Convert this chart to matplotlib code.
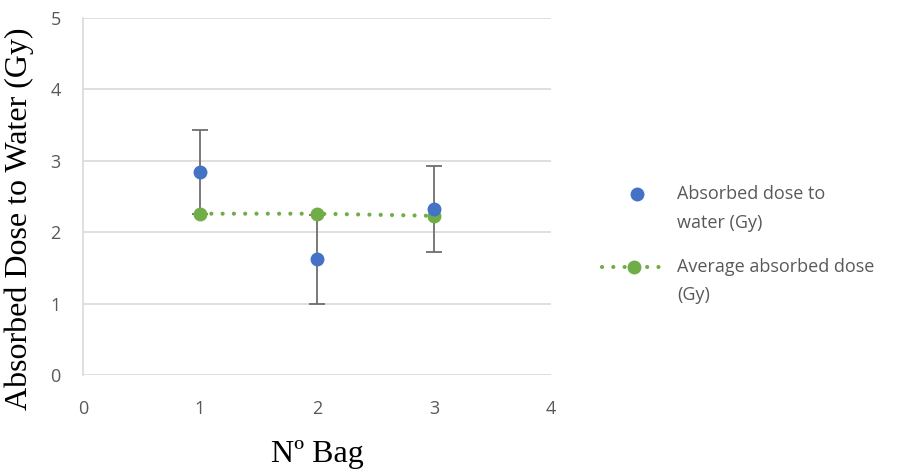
import matplotlib.pyplot as plt
from matplotlib.lines import Line2D

# values
bags = [1, 2, 3]
dose = [2.84, 1.62, 2.33]
dose_err = [0.59, 0.62, 0.60]
avg_dose = [2.26, 2.26, 2.23]

x_ticks = [0, 1, 2, 3, 4]
y_ticks = [0, 1, 2, 3, 4, 5]

legend_labels = [["Absorbed dose to", "water (Gy)"],
                 ["Average absorbed dose", "(Gy)"]]

BLUE = "#4472C4"
GREEN = "#70AD47"
GRID = "#D9D9D9"
TICK = "#595959"
DOTS = (0, (0.01, 2.7))


def draw_legend(fig):
    # hand-made legend so the marker sits on the first text line, as in Excel
    fig.add_artist(Line2D([0.7008], [0.5864], transform=fig.transFigure,
                          linestyle="none", marker="o", markersize=9,
                          color=BLUE))
    fig.add_artist(Line2D([0.6623, 0.7338], [0.4307, 0.4307],
                          transform=fig.transFigure, linestyle=DOTS,
                          linewidth=3, dash_capstyle="round", color=GREEN))
    fig.add_artist(Line2D([0.6980], [0.4307], transform=fig.transFigure,
                          linestyle="none", marker="o", markersize=9,
                          color=GREEN))
    rows = [(0.5864, 0.5245), (0.4307, 0.3710)]
    for (y1, y2), (l1, l2) in zip(rows, legend_labels):
        for y, txt in [(y1, l1), (y2, l2)]:
            fig.text(0.7448, y, txt, ha="left", va="center", fontsize=13,
                     fontfamily="Open Sans", color=TICK)


def main():
    fig = plt.figure(figsize=(9.09, 4.69), dpi=100)
    ax = fig.add_axes([0.0913, 0.2004, 0.515, 0.761])

    ax.errorbar(bags, dose, yerr=dose_err, fmt="none", ecolor="#6E6E6E",
                elinewidth=1.3, capsize=6, capthick=1.3, zorder=3)
    ax.plot(bags, avg_dose, linestyle=DOTS, linewidth=3,
            dash_capstyle="round", color=GREEN, marker="o", markersize=9,
            zorder=4)
    ax.plot(bags, dose, linestyle="none", marker="o", markersize=9,
            color=BLUE, zorder=5)

    ax.set_xlim(0, 4)
    ax.set_ylim(0, 5)
    ax.set_xticks(x_ticks)
    ax.set_yticks(y_ticks)
    ax.yaxis.grid(True, color=GRID, linewidth=1.2)
    ax.set_axisbelow(True)
    for side in ["top", "right", "bottom"]:
        ax.spines[side].set_visible(False)
    ax.spines["left"].set_color(GRID)
    ax.spines["left"].set_linewidth(1.2)
    ax.tick_params(length=0, labelsize=13, labelcolor=TICK)
    ax.tick_params(axis="x", pad=18)
    ax.tick_params(axis="y", pad=16)
    for lab in ax.get_xticklabels() + ax.get_yticklabels():
        lab.set_fontfamily("Open Sans")

    ax.set_xlabel("Nº Bag", fontfamily="Liberation Serif", fontsize=23,
                  labelpad=16)
    ax.set_ylabel("Absorbed Dose to Water (Gy)", fontfamily="Liberation Serif",
                  fontsize=23)
    ax.yaxis.set_label_coords(-0.105, 0.437)

    draw_legend(fig)

    fig.savefig("out.png", dpi=100)


if __name__ == "__main__":
    main()
